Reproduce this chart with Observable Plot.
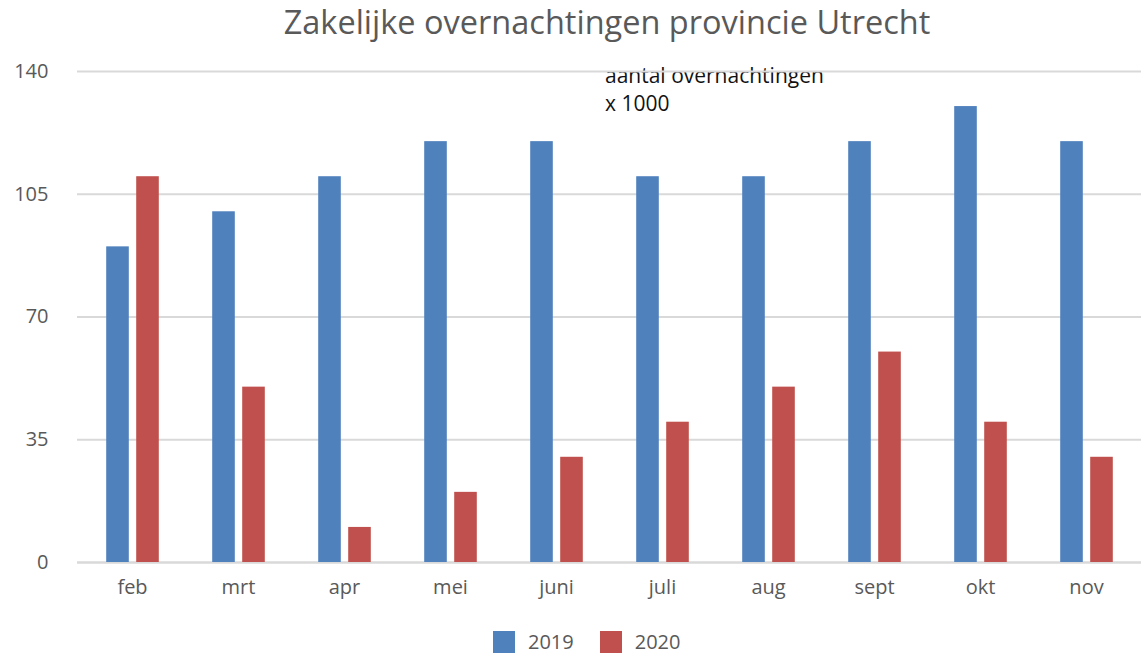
<!DOCTYPE html>
<html><head><meta charset="utf-8">
<script src="https://cdn.jsdelivr.net/npm/d3@7"></script>
<script src="https://cdn.jsdelivr.net/npm/@observablehq/plot@0.6"></script>
<style>
body{margin:0;background:#fff;font-family:"Open Sans",sans-serif;}
#wrap{position:relative;width:1141px;height:654px;overflow:hidden;background:#fff;}
#title{position:absolute;left:0;top:0;width:1141px;text-align:center;font-size:32.5px;color:#595959;line-height:44px;padding-left:73px;box-sizing:border-box;}
#chart{position:absolute;left:0;top:50px;}
#note{position:absolute;left:605px;top:61px;font-size:21px;line-height:28px;color:#111;}
#legend{position:absolute;left:493px;top:628px;display:flex;align-items:center;font-size:20px;color:#595959;}
.sw{width:22px;height:22px;display:inline-block;}
</style></head><body>
<div id="wrap">
<div id="title">Zakelijke overnachtingen provincie Utrecht</div>
<div id="note">aantal overnachtingen<br>x 1000</div>
<div id="chart"></div>
<div id="legend"></div>
</div>
<script>
const months = ["feb","mrt","apr","mei","juni","juli","aug","sept","okt","nov"];
const values2019 = [90,100,110,120,120,110,110,120,130,120];
const values2020 = [110,50,10,20,30,40,50,60,40,30];
const years = ["2019","2020"];
const colors = ["#4F81BD","#C0504D"];
const yTicks = [0,35,70,105,140];

const data2019 = months.map((m,i)=>({month:m, year:years[0], value:values2019[i]}));
const data2020 = months.map((m,i)=>({month:m, year:years[1], value:values2020[i]}));

const plot = Plot.plot({
  width:1141, height:565,
  marginTop:21, marginBottom:53, marginLeft:77, marginRight:0,
  style:{fontFamily:"Open Sans", fontSize:"20px", color:"#595959", background:"transparent", overflow:"visible"},
  x:{domain:months, padding:0, label:null, tickSize:0, tickPadding:17},
  y:{domain:[0,140], ticks:yTicks, label:null, tickSize:0, tickPadding:29},
  marks:[
    Plot.ruleY(yTicks.filter(t=>t>0), {stroke:"#d9d9d9", strokeWidth:2}),
    Plot.ruleY([0], {stroke:"#d9d9d9", strokeWidth:2.5}),
    Plot.barY(data2019, {x:"month", y:"value", fill:colors[0], insetLeft:41.7, insetRight:41.7, dx:-14.5}),
    Plot.barY(data2020, {x:"month", y:"value", fill:colors[1], insetLeft:41.7, insetRight:41.7, dx:15.5})
  ]
});
document.getElementById("chart").appendChild(plot);

const legend = document.getElementById("legend");
years.forEach((y,i)=>{
  const sw = document.createElement("span");
  sw.className = "sw";
  sw.style.background = colors[i];
  const t = document.createElement("span");
  t.textContent = y;
  t.style.marginLeft = "13px";
  t.style.marginRight = i === 0 ? "26px" : "0";
  legend.appendChild(sw);
  legend.appendChild(t);
});
</script>
</body></html>
